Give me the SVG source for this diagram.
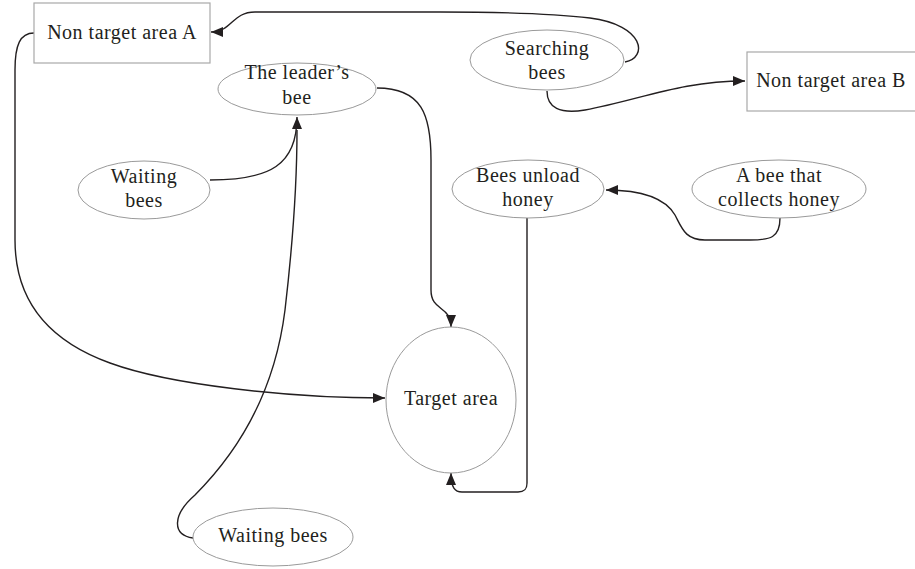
<svg xmlns="http://www.w3.org/2000/svg" width="915" height="569" viewBox="0 0 915 569">
<style>
.box{fill:#fff;stroke:#a8a8a8;stroke-width:1.2}
.ell{fill:#fff;stroke:#9a9a9a;stroke-width:1}
.t{font-family:"Liberation Serif","Times New Roman",serif;font-size:20px;fill:#231f20;text-anchor:middle;letter-spacing:0.5px}
.c{fill:none;stroke:#231f20;stroke-width:1.4}
</style>
<defs>
<marker id="ar" markerWidth="13" markerHeight="11" refX="12" refY="5" orient="auto" markerUnits="userSpaceOnUse">
<path d="M0,0 L12,5 L0,10 z" fill="#231f20"/>
</marker>
</defs>
<rect width="915" height="569" fill="#fff"/>
<g id="connectors">
<path class="c" d="M625,62 C648,58 645,25 590,18 C540,12 480,12 440,12 L255,12 C232,12 232,32 211,32" marker-end="url(#ar)"/>
<path class="c" d="M547,91 C547,108 560,114 585,110 C640,100 680,81 745,81" marker-end="url(#ar)"/>
<path class="c" d="M377,88 C422,88 431,115 431,160 L431,290 C431,312 451,305 451,327" marker-end="url(#ar)"/>
<path class="c" d="M210,180 C270,180 297,165 297,117" marker-end="url(#ar)"/>
<path class="c" d="M193,538 C172,535 172,515 195,495 C240,450 275,390 285,310 C292,250 297,180 297,130"/>
<path class="c" d="M34,33 C20,33 15,45 15,70 L15,240 C15,310 60,345 110,363 C170,385 290,398 385,398" marker-end="url(#ar)"/>
<path class="c" d="M780,218 C780,238 770,240 750,240 L705,240 C685,240 682,228 675,215 C665,198 640,190 606,190" marker-end="url(#ar)"/>
<path class="c" d="M527,218 L527,483 C527,490 524,492 518,492 L462,492 C455,492 451,488 451,473" marker-end="url(#ar)"/>
</g>
<g id="nonA">
<rect class="box" x="34" y="3" width="176" height="60"/>
<text class="t" x="122" y="39">Non target area A</text>
</g>
<g id="searching">
<ellipse class="ell" cx="547" cy="60" rx="77" ry="30"/>
<text class="t" x="547" y="55">Searching</text>
<text class="t" x="547" y="79">bees</text>
</g>
<g id="nonB">
<rect class="box" x="747" y="52" width="170" height="59"/>
<text class="t" x="831" y="87">Non target area B</text>
</g>
<g id="leader">
<ellipse class="ell" cx="297" cy="89" rx="79" ry="26"/>
<text class="t" x="297" y="79">The leader’s</text>
<text class="t" x="297" y="104">bee</text>
</g>
<g id="waiting1">
<ellipse class="ell" cx="144" cy="190" rx="66" ry="29"/>
<text class="t" x="144" y="183">Waiting</text>
<text class="t" x="144" y="207">bees</text>
</g>
<g id="unload">
<ellipse class="ell" cx="528" cy="189" rx="76" ry="29"/>
<text class="t" x="528" y="182">Bees unload</text>
<text class="t" x="528" y="206">honey</text>
</g>
<g id="collector">
<ellipse class="ell" cx="779" cy="189" rx="87" ry="29"/>
<text class="t" x="779" y="182">A bee that</text>
<text class="t" x="779" y="206">collects honey</text>
</g>
<g id="target">
<ellipse class="ell" cx="451" cy="400" rx="65" ry="73"/>
<text class="t" x="451" y="405">Target area</text>
</g>
<g id="waiting2">
<ellipse class="ell" cx="273" cy="537" rx="80" ry="29"/>
<text class="t" x="273" y="542">Waiting bees</text>
</g>
</svg>
